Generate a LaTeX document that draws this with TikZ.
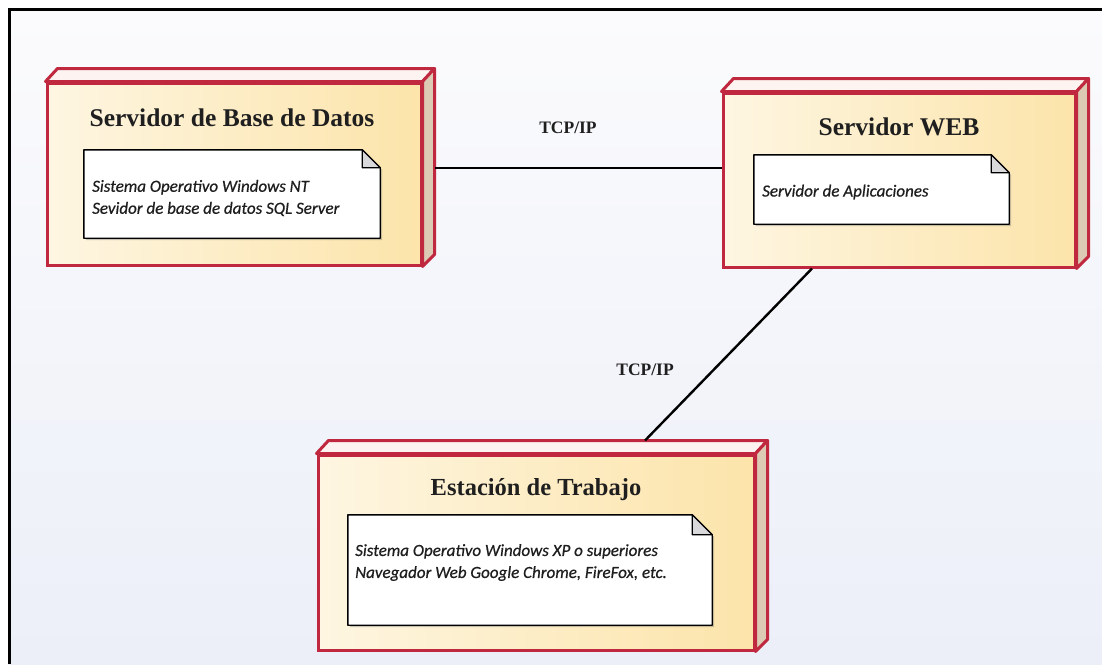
\documentclass[tikz,border=0pt]{standalone}
\usepackage{fontspec}
\setmainfont{Liberation Serif}
\newfontfamily\notefont{Carlito}[ItalicFeatures={FakeBold=0.6}]
\usetikzlibrary{shadows,calc}
\definecolor{nodeborder}{HTML}{C0283F}
\definecolor{frontleft}{HTML}{FEF6E2}
\definecolor{frontright}{HTML}{FCE4AA}
\definecolor{topfacecol}{HTML}{FDF4F1}
\definecolor{sidefacecol}{HTML}{DCCAB4}
\definecolor{foldcol}{HTML}{D9D9DB}
\definecolor{bgtop}{HTML}{FBFBFD}
\definecolor{bgbottom}{HTML}{ECEFF8}
\definecolor{notetextcol}{HTML}{1E1E1E}
\tikzset{
  front/.style={draw=nodeborder, line width=3pt, shading=axis, left color=frontleft, right color=frontright, shading angle=90, inner sep=0pt},
  topface/.style={draw=nodeborder, line width=3pt, fill=topfacecol, line join=round},
  sideface/.style={draw=nodeborder, line width=3pt, fill=sidefacecol, line join=round},
  notearea/.style={inner sep=0pt, draw=none},
  notestyle/.style={draw=black, line width=1.4pt, fill=white, line join=round, drop shadow={shadow xshift=2pt, shadow yshift=-2pt, opacity=0.35, fill=black!60}},
  foldstyle/.style={draw=black, line width=1.2pt, fill=foldcol, line join=round},
  nodetitle/.style={font=\fontsize{25.5}{28}\selectfont\bfseries, text=black!88, inner sep=0pt},
  notetext/.style={font=\notefont\itshape\fontsize{17}{22}\selectfont, text=notetextcol, align=left, inner sep=0pt, anchor=west},
  conn/.style={line width=2.4pt, black},
  linklabel/.style={font=\fontsize{17.5}{20}\selectfont\bfseries, text=black!88, inner sep=0pt},
}
\newcommand\nodedepth[1]{%
  \filldraw[topface] (#1.north west) -- ++(12pt,13pt) -- ([shift={(12pt,13pt)}]#1.north east) -- (#1.north east) -- cycle;
  \filldraw[sideface] (#1.north east) -- ([shift={(12pt,13pt)}]#1.north east) -- ([shift={(12pt,12pt)}]#1.south east) -- (#1.south east) -- cycle;}
\newcommand\notepaper[2]{%
  \filldraw[notestyle] (#1.north west) -- ([xshift=-#2]#1.north east) -- ([yshift=-#2]#1.north east) -- (#1.south east) -- (#1.south west) -- cycle;
  \filldraw[foldstyle] ([xshift=-#2]#1.north east) -- ([xshift=-#2,yshift=-#2]#1.north east) -- ([yshift=-#2]#1.north east) -- cycle;}
\begin{document}
\begin{tikzpicture}[x=1pt,y=-1pt]
\useasboundingbox (0,0) rectangle (1102,664);
\fill[white] (0,0) rectangle (1102,664);
\shade[top color=bgtop, bottom color=bgbottom] (9,9) rectangle (1102,664);
\draw[line width=3pt, black] (9,664) -- (9,9) -- (1102,9);

% nodes (front faces)
\node[front, minimum width=374pt, minimum height=182pt] (db) at (234,174) {};
\node[front, minimum width=352pt, minimum height=174pt] (web) at (899,180) {};
\node[front, minimum width=436pt, minimum height=195pt] (ws) at (536,552.5) {};
\nodedepth{db}
\nodedepth{web}
\nodedepth{ws}

% titles
\node[nodetitle] (dbtitle) at (232,118) {Servidor de Base de Datos};
\node[nodetitle] (webtitle) at (899,127) {Servidor WEB};
\node[nodetitle, font=\fontsize{24.5}{28}\selectfont\bfseries] (wstitle) at (536,490) {Estación de Trabajo};

% notes
\node[notearea, minimum width=296pt, minimum height=88pt] (dbnote) at (232,194) {};
\node[notearea, minimum width=255pt, minimum height=69pt] (webnote) at (881.5,189.5) {};
\node[notearea, minimum width=364pt, minimum height=110pt] (wsnote) at (530,570) {};
\notepaper{dbnote}{18pt}
\notepaper{webnote}{18pt}
\notepaper{wsnote}{20pt}
\node[notetext] (dbtext) at (92,198) {Sistema Operativo Windows NT\\Sevidor de base de datos SQL Server};
\node[notetext] (webtext) at (762,192) {Servidor de Aplicaciones};
\node[notetext] (wstext) at (355,562.5) {Sistema Operativo Windows XP o superiores\\Navegador Web Google Chrome, FireFox, etc.};

% connectors
\draw[conn] ([xshift=12pt,yshift=6pt]db.east) coordinate (dbside) -- (dbside -| web.west);
\draw[conn] ([xshift=-87pt]web.south) -- ([xshift=109pt,yshift=13pt]ws.north);

% labels
\node[linklabel] (lab1) at (568,128) {TCP/IP};
\node[linklabel] (lab2) at (645,370) {TCP/IP};
\end{tikzpicture}
\end{document}
